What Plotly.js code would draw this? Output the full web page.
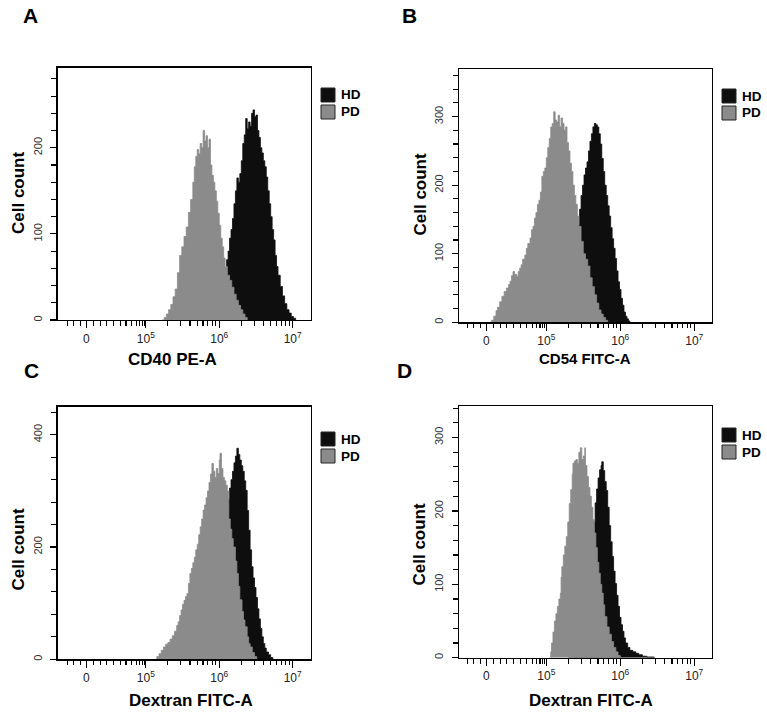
<!DOCTYPE html>
<html><head><meta charset="utf-8">
<script src="https://cdn.plot.ly/plotly-3.0.1.min.js"></script>
<style>html,body{margin:0;padding:0;background:#fff;} #chart{width:767px;height:712px;}</style>
</head><body><div id="chart"></div>
<script>
// ================= DATA =================
// x positions are in display "decade" units of the biexponential axis (10^5 -> 5, 10^6 -> 6, 10^7 -> 7)
const seriesNames = ['HD', 'PD'];
const panelLetters = ['A', 'B', 'C', 'D'];
const xTitles = ['CD40 PE-A', 'CD54 FITC-A', 'Dextran FITC-A', 'Dextran FITC-A'];
const yTitle = 'Cell count';
const xTickVals = [4.19, 5, 6, 7];
const xTickText = ['0', '10<sup>5</sup>', '10<sup>6</sup>', '10<sup>7</sup>'];

// Panel A: CD40 PE-A
const aHD_x = [5.95,6.00,6.04,6.07,6.10,6.12,6.14,6.16,6.18,6.20,6.22,6.24,6.26,6.28,6.30,6.32,6.34,6.36,6.38,6.40,6.42,6.44,6.46,6.48,6.50,6.52,6.54,6.56,6.58,6.60,6.62,6.64,6.66,6.68,6.70,6.72,6.74,6.76,6.78,6.80,6.83,6.86,6.89,6.92,6.95,6.98,7.01,7.04];
const aHD_y = [0,8,25,45,70,80,95,105,118,135,150,165,160,170,185,205,215,234,222,230,225,240,244,236,238,220,212,200,194,185,178,166,150,135,120,105,93,75,62,52,39,28,19,12,8,4,2,0];
const aPD_x = [5.22,5.25,5.28,5.31,5.34,5.37,5.40,5.43,5.46,5.49,5.52,5.55,5.58,5.61,5.64,5.66,5.68,5.70,5.72,5.74,5.76,5.78,5.80,5.82,5.84,5.86,5.88,5.90,5.92,5.94,5.96,5.98,6.00,6.02,6.04,6.06,6.08,6.11,6.14,6.17,6.20,6.23,6.26,6.29,6.32,6.35,6.38];
const aPD_y = [0,3,7,12,18,27,36,55,75,85,97,108,125,140,160,178,190,198,193,205,200,220,208,214,200,210,180,168,160,150,138,124,110,95,85,72,62,52,46,38,30,23,17,12,7,3,0];

// Panel B: CD54 FITC-A
const bHD_x = [5.20,5.26,5.32,5.37,5.41,5.43,5.45,5.47,5.49,5.51,5.53,5.55,5.57,5.59,5.61,5.63,5.65,5.67,5.69,5.71,5.73,5.75,5.77,5.79,5.81,5.83,5.85,5.87,5.89,5.91,5.93,5.95,5.97,5.99,6.01,6.03,6.05,6.07,6.09,6.11,6.13];
const bHD_y = [0,12,40,80,120,142,165,185,200,215,225,234,250,264,275,285,290,288,285,275,260,239,220,200,185,170,155,138,122,108,93,75,59,48,35,25,15,9,5,2,0];
const bPD_x = [4.24,4.26,4.29,4.32,4.34,4.37,4.40,4.43,4.46,4.49,4.51,4.53,4.55,4.57,4.60,4.62,4.64,4.66,4.68,4.71,4.73,4.75,4.78,4.80,4.82,4.84,4.86,4.88,4.90,4.92,4.94,4.96,4.98,5.00,5.02,5.04,5.06,5.08,5.10,5.12,5.14,5.16,5.18,5.20,5.22,5.24,5.26,5.28,5.30,5.32,5.34,5.36,5.38,5.40,5.42,5.44,5.47,5.50,5.53,5.56,5.59,5.62,5.65,5.68,5.71,5.74,5.77,5.80,5.83];
const bPD_y = [0,3,9,17,22,30,38,45,50,55,60,68,74,70,67,74,79,84,92,98,108,115,123,135,140,152,160,172,178,190,213,220,225,240,255,268,285,290,307,295,292,302,285,298,290,280,285,262,250,232,220,200,185,172,155,140,118,100,92,82,65,52,40,28,18,12,7,3,0];

// Panel C: Dextran FITC-A
const cHD_x = [5.80,5.86,5.92,5.98,6.03,6.07,6.10,6.12,6.14,6.16,6.18,6.20,6.22,6.24,6.26,6.28,6.30,6.32,6.34,6.36,6.38,6.40,6.42,6.44,6.46,6.48,6.50,6.52,6.54,6.56,6.58,6.60,6.62,6.64,6.67,6.70,6.73];
const cHD_y = [0,15,40,90,150,200,250,285,305,320,335,350,362,376,365,355,345,335,318,301,265,230,195,165,145,128,110,90,72,55,40,28,20,13,8,3,0];
const cPD_x = [5.12,5.15,5.18,5.21,5.24,5.27,5.30,5.33,5.36,5.39,5.42,5.44,5.46,5.48,5.50,5.52,5.54,5.56,5.58,5.60,5.62,5.64,5.66,5.68,5.70,5.72,5.74,5.76,5.78,5.80,5.82,5.84,5.86,5.88,5.90,5.92,5.94,5.96,5.98,6.00,6.01,6.03,6.05,6.07,6.09,6.11,6.13,6.15,6.17,6.19,6.22,6.24,6.26,6.28,6.31,6.33,6.35,6.38,6.40,6.42,6.45,6.48,6.51];
const cPD_y = [0,5,10,16,22,27,30,36,42,50,60,67,78,88,98,105,112,117,135,153,162,172,182,195,205,222,236,250,266,275,288,300,315,330,349,335,324,340,331,355,367,340,324,318,310,300,250,232,215,200,175,153,130,106,85,70,58,40,28,22,12,5,0];

// Panel D: Dextran FITC-A
const dHD_x = [5.30,5.40,5.48,5.54,5.58,5.61,5.64,5.66,5.68,5.70,5.72,5.74,5.75,5.77,5.79,5.81,5.83,5.85,5.87,5.89,5.91,5.93,5.95,5.97,5.99,6.01,6.03,6.05,6.07,6.10,6.13,6.17,6.21,6.25,6.30,6.36,6.44,6.46];
const dHD_y = [0,20,65,110,140,165,185,211,230,245,256,262,267,255,240,228,205,180,158,138,118,101,85,70,55,45,36,27,20,14,10,8,6,4,2,1,1,0];
const dPD_x = [5.04,5.06,5.07,5.09,5.11,5.13,5.15,5.17,5.19,5.20,5.21,5.23,5.25,5.27,5.29,5.31,5.33,5.35,5.36,5.38,5.40,5.42,5.44,5.46,5.48,5.50,5.52,5.53,5.55,5.57,5.59,5.61,5.63,5.65,5.67,5.69,5.71,5.73,5.75,5.77,5.79,5.82,5.85,5.88,5.91,5.94,5.97,6.00];
const dPD_y = [0,8,20,35,50,60,70,80,88,110,124,140,152,165,185,210,229,250,265,268,270,265,280,286,270,275,286,262,247,232,220,205,188,170,150,130,115,100,88,72,56,42,32,22,14,8,3,0];

// ================= LAYOUT HELPERS =================
const W = 767, H = 712;
const FONT = 'Liberation Sans, Arial, Helvetica, sans-serif';
const HD_COLOR = '#0e0e0e', PD_COLOR = '#8b8b8b';
const xMinorVals = [3.93, 4.01, 4.11, 4.29, 4.38, 4.46, 4.56, 4.65, 4.73, 4.81, 4.87, 4.915, 4.95, 4.98]
  .concat([5, 6].flatMap(d => [2,3,4,5,6,7,8,9].map(k => d + Math.log10(k))));

const panels = [
  {hd: [aHD_x, aHD_y], pd: [aPD_x, aPD_y], box: [57.7, 310.7, 67.7, 320], xr: [3.80, 7.245], yr: [0, 293], yt: [0,100,200], ym: 20, xt: [172, 359], xs: 17, yt2: [18, 193], let: [30, 15.5], leg: [321, 88]},
  {hd: [bHD_x, bHD_y], pd: [bPD_x, bPD_y], box: [459, 712, 69.3, 322.3], xr: [3.82, 7.24], yr: [0, 369], yt: [0,100,200,300], ym: 20, xt: [585, 358.5], xs: 15, yt2: [419.5, 194], let: [409.5, 15.5], leg: [722, 89]},
  {hd: [cHD_x, cHD_y], pd: [cPD_x, cPD_y], box: [57.7, 310.7, 406.7, 659.3], xr: [3.80, 7.245], yr: [0, 450], yt: [0,200,400], ym: 40, xt: [190.5, 700], xs: 17, yt2: [18, 549.5], let: [31.5, 370.5], leg: [321, 432]},
  {hd: [dHD_x, dHD_y], pd: [dPD_x, dPD_y], box: [459, 712, 406, 657.7], xr: [3.82, 7.24], yr: [0, 343], yt: [0,100,200,300], ym: 20, xt: [591, 700], xs: 17, yt2: [419, 544.5], let: [404.5, 370.5], leg: [722, 428]}
];

const traces = [];
const layout = {
  width: W, height: H, margin: {l: 0, r: 0, t: 0, b: 0},
  paper_bgcolor: '#fff', plot_bgcolor: '#fff',
  showlegend: false,
  font: {family: FONT, color: '#111'},
  annotations: [], shapes: []
};

panels.forEach((p, i) => {
  const n = i === 0 ? '' : String(i + 1);
  const xa = 'x' + n, ya = 'y' + n;
  [['HD', p.hd, HD_COLOR], ['PD', p.pd, PD_COLOR]].forEach(([name, d, col]) => {
    traces.push({
      type: 'scatter', mode: 'lines', name: name, x: d[0], y: d[1],
      line: {shape: 'hv', color: col, width: 0.8}, fill: 'tozeroy', fillcolor: col,
      xaxis: xa, yaxis: ya, hoverinfo: 'skip', cliponaxis: true
    });
  });
  const [x0, x1, y0, y1] = p.box;
  layout['xaxis' + n] = {
    domain: [x0 / W, x1 / W], range: p.xr, anchor: ya, type: 'linear',
    showgrid: false, zeroline: false, showline: true, linecolor: '#000', linewidth: 1.3, mirror: true,
    ticks: 'outside', ticklen: 7, tickwidth: 1.2, tickcolor: '#000',
    tickmode: 'array', tickvals: xTickVals, ticktext: xTickText,
    tickfont: {family: FONT, size: 12, color: '#222'},
    minor: {tickmode: 'array', tickvals: xMinorVals, ticks: 'outside', ticklen: 4.5, tickwidth: 1.1, tickcolor: '#000', showgrid: false},
    fixedrange: true
  };
  layout['yaxis' + n] = {
    domain: [1 - y1 / H, 1 - y0 / H], range: p.yr, anchor: xa, type: 'linear',
    showgrid: false, zeroline: false, showline: true, linecolor: '#000', linewidth: 1.3, mirror: true,
    ticks: 'outside', ticklen: 6, tickwidth: 1.2, tickcolor: '#000',
    tickmode: 'array', tickvals: p.yt, tickangle: -90, ticklabelstandoff: 4,
    tickfont: {family: FONT, size: 11, color: '#333'},
    minor: {dtick: p.ym, tick0: 0, ticks: 'outside', ticklen: 5, tickwidth: 1.1, tickcolor: '#000', showgrid: false},
    fixedrange: true
  };
  // panel letter
  layout.annotations.push({xref: 'paper', yref: 'paper', x: p.let[0] / W, y: 1 - p.let[1] / H, xanchor: 'center', yanchor: 'middle', showarrow: false,
    text: panelLetters[i], font: {family: FONT, size: 21, weight: 'bold', color: '#000'}});
  // axis titles
  layout.annotations.push({xref: 'paper', yref: 'paper', x: p.xt[0] / W, y: 1 - p.xt[1] / H, xanchor: 'center', yanchor: 'middle', showarrow: false,
    text: xTitles[i], font: {family: FONT, size: p.xs, weight: 'bold', color: '#000'}});
  layout.annotations.push({xref: 'paper', yref: 'paper', x: p.yt2[0] / W, y: 1 - p.yt2[1] / H, xanchor: 'center', yanchor: 'middle', showarrow: false,
    textangle: -90, text: yTitle, font: {family: FONT, size: 17, weight: 'bold', color: '#000'}});
  // legend (square + label) for each series
  seriesNames.forEach((s, k) => {
    const lx = p.leg[0], ly = p.leg[1] + k * 17;
    layout.shapes.push({type: 'rect', xref: 'paper', yref: 'paper', x0: lx / W, x1: (lx + 14) / W, y0: 1 - (ly + 14) / H, y1: 1 - ly / H,
      fillcolor: k === 0 ? HD_COLOR : PD_COLOR, line: {color: '#222', width: 1}});
    layout.annotations.push({xref: 'paper', yref: 'paper', x: (lx + 18) / W, y: 1 - (ly + 7) / H, xanchor: 'left', yanchor: 'middle', showarrow: false,
      text: s, font: {family: FONT, size: 13.5, weight: 'bold', color: '#000'}});
  });
});

Plotly.newPlot('chart', traces, layout, {staticPlot: true, displayModeBar: false});
</script>
</body></html>
